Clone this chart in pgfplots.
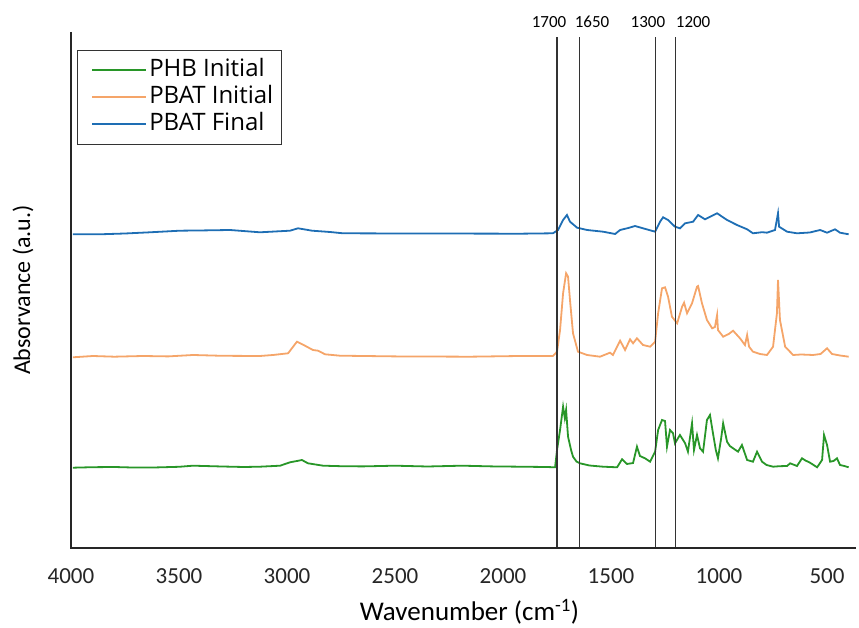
\documentclass[border=0pt]{standalone}
\usepackage{fontspec}
\setmainfont{Carlito}
\newfontfamily\legendfont{Open Sans}
\usepackage{pgfplots}
\pgfplotsset{compat=1.18}

\definecolor{phbgreen}{RGB}{40,150,40}
\definecolor{pbatorange}{RGB}{245,165,105}
\definecolor{pbatblue}{RGB}{30,110,180}

\begin{document}
\begin{tikzpicture}
\begin{axis}[
    name=ax,
    width=785pt, height=516pt, scale only axis,
    x dir=reverse,
    xmin=366, xmax=4000, ymin=0, ymax=516,
    xtick={4000,3500,3000,2500,2000,1500,1000,500},
    xticklabels={4000,3500,3000,2500,2000,1500,1000,500},
    ytick=\empty,
    major tick length=0pt,
    axis line style={draw=none},
    clip=false,
    xticklabel style={anchor=base, yshift=-36pt, font=\fontsize{23}{23}\selectfont, text=black!85},
    xlabel={Wavenumber (cm\textsuperscript{-1})},
    every axis x label/.style={at={(axis description cs:0.5,0)}, anchor=base, yshift=-73pt, xshift=6pt, font=\fontsize{27}{27}\selectfont},
    ylabel={Absorvance (a.u.)},
    every axis y label/.style={at={(axis description cs:0,0.5)}, rotate=90, anchor=center, yshift=48pt, font=\fontsize{24}{24}\selectfont},
    legend style={at={(axis description cs:0,1)}, anchor=north west, xshift=6pt, yshift=-18pt,
        draw=black!80, line width=0.8pt, font=\legendfont\fontsize{24}{24}\selectfont,
        inner xsep=6pt, inner ysep=7pt, row sep=1pt, column sep=0pt,
        nodes={inner sep=2pt, text height=17pt, text depth=5pt},
        cells={anchor=west}},
    legend image code/.code={\path (0pt,0pt); \draw[#1, line width=2pt] (8pt,0pt) -- (62pt,0pt);},
]
% PHB initial
\addplot[phbgreen, line width=1.8pt] coordinates {
(3991,80.3) (3900,80.8) (3800,81.0) (3700,80.4) (3600,80.6) (3500,81.2) (3435,82.3) (3300,81.5) (3200,81.0) (3125,81.3)
(3032,82.3) (2986,85.7) (2954,87) (2931,88) (2903,84.7) (2833,82.3) (2750,81.8)
(2650,81.6) (2500,82.3) (2350,81.5) (2190,82.3) (2050,81.6) (1921,81.3) (1800,81.0) (1759,80.7) (1750,98) (1736,118) (1722,141.3) (1714,130) (1708,138)
(1699,111.3) (1685,98) (1676,91.3) (1660,86.5) (1644,84.7) (1600,82.5) (1537,81.3) (1472,80.7) (1449,88.7) (1426,84) (1398,85) (1380,101.3) (1366,92)
(1343,89.7) (1319,86.3) (1296,96.3) (1282,118) (1264,128) (1250,127) (1241,101.3) (1227,118) (1213,114.7) (1204,104.7)
(1181,113) (1157,104.7) (1144,96.3) (1125,124.7) (1116,98) (1102,113) (1088,99.7) (1074,96.3) (1056,128) (1042,133)
(1028,114.7) (1015,98) (1005,89.7) (990,110) (981,124.7) (963,106.3) (950,102) (935,99.7) (912,96.3) (894,103) (870,88) (843,86.3) (824,96.3)
(801,86.3) (780,83) (750,81.3) (720,81.8) (685,82) (671,84.7) (639,82) (616,89.7) (600,87.5) (579,85.3) (546,80.7) (523,88) (514,113) (500,103)
(486,86.3) (470,87) (454,89.7) (440,83) (420,82) (400,80.7)
};
\addlegendentry{PHB Initial}
% PBAT initial
\addplot[pbatorange, line width=1.8pt] coordinates {
(3991,190.7) (3898,192) (3800,191.3) (3667,192) (3550,191.6) (3435,193) (3300,192.2) (3125,192) (3065,193) (2995,194.7) (2954,206.3) (2917,202.3) (2880,198)
(2856,197.3) (2824,193.7) (2755,192.3) (2500,191.6) (2153,191.3) (1921,192) (1769,192) (1750,196.3) (1736,218) (1722,254.7)
(1708,274.7) (1699,271.3) (1690,248) (1676,214.7) (1653,196.3) (1611,193) (1551,191.3) (1505,195.3) (1491,193)
(1458,207.3) (1435,198) (1412,208.7) (1398,204.7) (1380,209.7) (1352,203) (1319,201.3) (1296,206.3) (1282,234.7)
(1264,259.7) (1250,260.7) (1236,251.3) (1218,231.3) (1194,224.7) (1171,241.3) (1162,245.3) (1148,234.7) (1125,244.7)
(1102,261.3) (1097,262) (1079,244.7) (1056,228) (1032,219.7) (1019,221) (1009,233) (1005,218) (981,211.3) (955,214) (935,217.3)
(903,209.7) (880,203) (870,213) (861,201.3) (843,196.3) (810,194) (778,193) (750,201.3) (732,234.7) (727,268) (718,228)
(694,201.3) (657,193) (620,193.5) (565,193) (530,194) (500,199.7) (477,194) (440,192.5) (400,191.3)
};
\addlegendentry{PBAT Initial}
% PBAT final
\addplot[pbatblue, line width=1.8pt] coordinates {
(3991,313.7) (3866,313.7) (3750,314.5) (3634,315.7) (3495,317.3) (3380,317.6) (3264,318) (3125,315.7) (2986,317.3) (2949,319.7) (2884,317.3)
(2801,316) (2741,314.7) (2600,314.6) (2400,314.5) (2150,314.4) (1921,314.3) (1769,314.7) (1745,318) (1722,328) (1704,333) (1690,326.3) (1657,320.3)
(1611,318) (1537,316.3) (1481,314) (1458,318) (1420,320) (1389,322) (1352,319.7) (1296,316.3) (1273,326.3) (1259,330.7)
(1236,328) (1204,321.3) (1181,319.7) (1157,324.7) (1120,326.3) (1097,333) (1065,328.7) (1009,334.7) (963,328)
(917,323) (870,318.7) (843,314.7) (800,315.8) (778,315.3) (741,318) (727,334.7) (722,321.3) (685,316.3) (639,314.7) (580,315.5) (532,318)
(500,315.3) (463,318.7) (440,315.3) (400,313.7)
};
\addlegendentry{PBAT Final}
% reference lines
\addplot[black!80, line width=1.2pt, forget plot] coordinates {(1750,0) (1750,511)};
\addplot[black!80, line width=1.2pt, forget plot] coordinates {(1645,0) (1645,511)};
\addplot[black!80, line width=1.2pt, forget plot] coordinates {(1295,0) (1295,511)};
\addplot[black!80, line width=1.2pt, forget plot] coordinates {(1200,0) (1200,511)};
\node[font=\fontsize{17}{17}\selectfont] at (axis cs:1787,526) {1700};
\node[font=\fontsize{17}{17}\selectfont] at (axis cs:1588,526) {1650};
\node[font=\fontsize{17}{17}\selectfont] at (axis cs:1329,526) {1300};
\node[font=\fontsize{17}{17}\selectfont] at (axis cs:1120,526) {1200};
% axis lines (left and bottom only)
\draw[black!85, line width=2.2pt] (axis description cs:0,1) -- (axis description cs:0,0) -- (axis description cs:1,0);
\end{axis}
\pgfresetboundingbox
\path (ax.south west) ++(-71pt,-80pt) rectangle ++(859pt,628pt);
\end{tikzpicture}
\end{document}
